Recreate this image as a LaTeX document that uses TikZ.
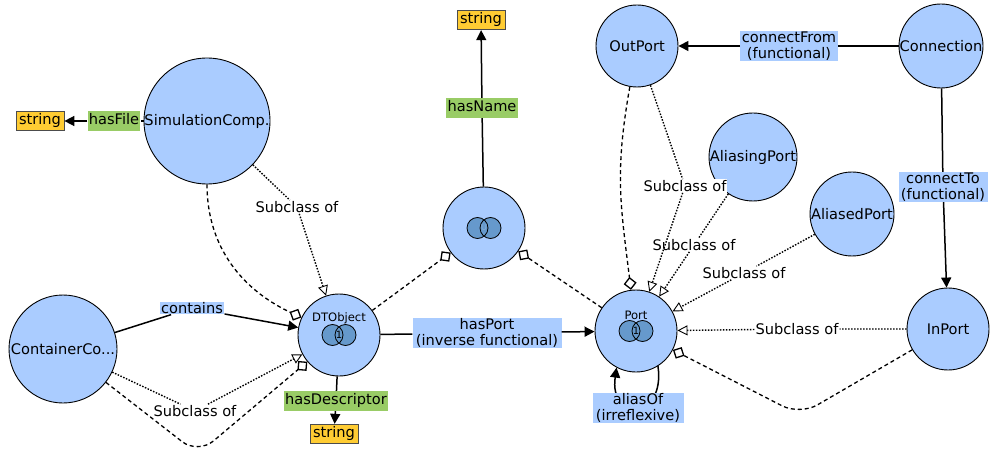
\documentclass[tikz,border=0pt]{standalone}
\usepackage{fontspec}
\setmainfont{DejaVu Sans}
\usetikzlibrary{positioning,arrows.meta}

\definecolor{clsblue}{HTML}{AACCFF}
\definecolor{dpgreen}{HTML}{99CC66}
\definecolor{dtyellow}{HTML}{FFCC33}
\definecolor{setblue}{HTML}{6699CC}

\tikzset{
  cls/.style={circle, draw, line width=0.9pt, fill=clsblue, inner sep=0pt},
  oprop/.style={fill=clsblue, inner xsep=1.5pt, inner ysep=0.8pt, align=center},
  dprop/.style={fill=dpgreen, inner xsep=1.2pt, inner ysep=2.75pt, text height=11.1pt, text depth=3.4pt},
  dtype/.style={draw=black!70, line width=0.8pt, fill=dtyellow, inner xsep=3pt, inner ysep=2.5pt, text height=11.1pt, text depth=3.4pt},
  subtxt/.style={fill=white, inner sep=1pt},
  smalltxt/.style={font=\fontsize{11.6}{12}\selectfont, inner sep=0pt},
  propline/.style={line width=1.5pt, -{Triangle[length=10pt,width=10pt]}},
  subline/.style={line width=1.4pt, dash pattern=on 1.5pt off 1.5pt, -{Triangle[fill=white,length=10pt,width=10pt,line width=0.9pt]}},
  setline/.style={line width=1.3pt, dash pattern=on 4pt off 3pt, -{Diamond[fill=white,length=13pt,width=13pt,line width=1.3pt]}},
}

\begin{document}
\begin{tikzpicture}[x=1pt, y=1pt, font=\fontsize{14.6}{15.5}\selectfont]
  \useasboundingbox (0,0) rectangle (992,450);
  \fill[white] (0,0) rectangle (992,450);

  % Classes
  \node[cls, minimum size=126pt, label=center:SimulationComp.] (sim) at (207,329) {};
  \node[cls, minimum size=108pt, label=center:ContainerCo...] (cont) at (63,101) {};
  \node[cls, minimum size=82pt] (dto) at (339,115) {};
  \node[cls, minimum size=82pt] (uni) at (484,222) {};
  \node[cls, minimum size=82pt, label=center:OutPort] (outp) at (637,404) {};
  \node[cls, minimum size=84pt, label=center:Connection] (conn) at (941,404) {};
  \node[cls, minimum size=88pt, label=center:AliasingPort] (aliasing) at (753,293) {};
  \node[cls, minimum size=84pt, label=center:AliasedPort] (aliased) at (852,236) {};
  \node[cls, minimum size=82pt, label=center:InPort] (inp) at (948,121) {};
  \node[cls, minimum size=82pt] (port) at (636,119) {};

  % Set operator symbols
  \foreach \n in {dto,uni,port} {
    \fill[setblue] ([xshift=-6.5pt]\n.center) circle (10.5pt) ([xshift=6.5pt]\n.center) circle (10.5pt);
    \draw[line width=0.8pt] ([xshift=-6.5pt]\n.center) circle (10.5pt) ([xshift=6.5pt]\n.center) circle (10.5pt);
  }
  \node[smalltxt] (dtoname) at ([yshift=17pt]dto.center) {DTObject};
  \node[smalltxt] (dtoone) at (dto.center) {\fontsize{10}{10}\selectfont 1};
  \node[smalltxt] (portname) at ([yshift=16pt]port.center) {Port};
  \node[smalltxt] (portone) at (port.center) {\fontsize{10}{10}\selectfont 1};
  \node[smalltxt, text=setblue!80] (unisym) at (uni.center) {\fontsize{10}{10}\selectfont ∪};

  % Bend points
  \coordinate (dipB) at (198,-4);
  \coordinate (dipC) at (800,35);

  % Set operator links
  \draw[setline] (sim) to[out=-90,in=155] (dto);
  \draw[setline, rounded corners=20pt] (cont) -- (dipB) -- (dto);
  \draw[setline] (dto) -- (uni);
  \draw[setline] (port) -- (uni);
  \draw[setline] (outp) to[out=-100,in=97,looseness=1.1] (port);
  \draw[setline, rounded corners=20pt] (inp) -- (dipC) -- (port);

  % Self loop on Port
  \draw[propline] (port.-58) .. controls +(-82:55) and +(-98:55) .. (port.-118);

  % Datatypes
  \node[dtype] (str1) at (40,329) {string};
  \node[dtype] (str2) at (481,430) {string};
  \node[dtype] (str3) at (334,16) {string};

  % Property labels
  \node[dprop] (hasfile) at (114,329) {hasFile};
  \node[dprop] (hasname) at (482,342) {hasName};
  \node[dprop] (hasdesc) at (336,49) {hasDescriptor};
  \node[oprop] (contains) at (192,142) {contains};
  \node[oprop, minimum width=149pt] (hasport) at (487,117) {hasPort\\(inverse functional)};
  \node[oprop, minimum width=96pt] (connfrom) at (789,404) {connectFrom\\(functional)};
  \node[oprop, minimum width=89pt] (connto) at (943,263) {connectTo\\(functional)};
  \node[oprop, minimum width=91pt] (aliasof) at (638,42) {aliasOf\\(irreflexive)};

  % Subclass labels
  \node[subtxt] (subA) at (297,243) {Subclass of};
  \node[subtxt] (subB) at (195,39) {Subclass of};
  \node[subtxt] (subC) at (685,264) {Subclass of};
  \node[subtxt] (subD) at (694,205) {Subclass of};
  \node[subtxt] (subE) at (744,177) {Subclass of};
  \node[subtxt] (subF) at (797,121) {Subclass of};

  % Datatype properties
  \draw[propline] (sim) -- (hasfile) -- (str1);
  \draw[propline] (uni) -- (hasname) -- (str2);
  \draw[propline] (dto) -- (hasdesc) -- (str3);

  % Object properties
  \draw[propline] (cont) -- (contains) -- (dto);
  \draw[propline] (dto) -- (hasport) -- (port);
  \draw[propline] (conn) -- (connfrom) -- (outp);
  \draw[propline] (conn) -- (connto) -- (inp);

  % Subclass links
  \draw[subline] (sim) -- (subA) -- (dto);
  \draw[subline] (cont) -- (subB) -- (dto);
  \draw[subline] (outp) -- (subC) -- (port);
  \draw[subline] (aliasing) -- (subD) -- (port);
  \draw[subline] (aliased) -- (subE) -- (port);
  \draw[subline] (inp) -- (subF) -- (port);
\end{tikzpicture}
\end{document}
